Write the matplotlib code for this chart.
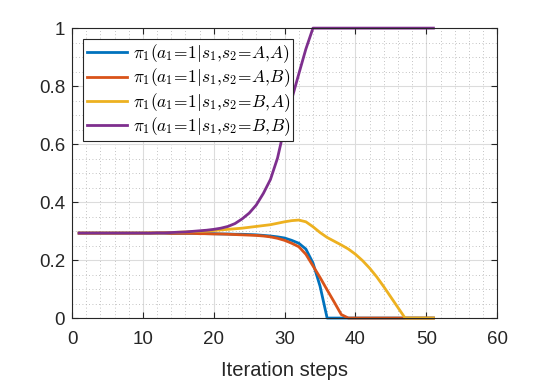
import numpy as np
import matplotlib.pyplot as plt
from matplotlib.ticker import MultipleLocator

plt.rcParams['font.family'] = ['Liberation Sans', 'DejaVu Sans']
plt.rcParams['mathtext.fontset'] = 'cm'

# iteration steps 1..51
steps = list(range(1, 52))

# policy values
pi_AA = [0.293, 0.293, 0.293, 0.293, 0.293, 0.293, 0.293, 0.293, 0.293, 0.293,
         0.293, 0.293, 0.293, 0.292, 0.292, 0.292, 0.292, 0.292, 0.291, 0.291,
         0.290, 0.290, 0.289, 0.289, 0.288, 0.287, 0.285, 0.283, 0.280, 0.276,
         0.268, 0.258, 0.238, 0.190, 0.110, 0.0, 0.0, 0.0, 0.0, 0.0,
         0.0, 0.0, 0.0, 0.0, 0.0, 0.0, 0.0, 0.0, 0.0, 0.0, 0.0]
pi_AB = [0.293, 0.293, 0.293, 0.293, 0.293, 0.293, 0.293, 0.293, 0.293, 0.293,
         0.293, 0.293, 0.293, 0.292, 0.292, 0.292, 0.292, 0.291, 0.291, 0.290,
         0.290, 0.289, 0.288, 0.287, 0.286, 0.285, 0.283, 0.280, 0.275, 0.268,
         0.258, 0.246, 0.220, 0.180, 0.140, 0.097, 0.055, 0.012, 0.0, 0.0,
         0.0, 0.0, 0.0, 0.0, 0.0, 0.0, 0.0, 0.0, 0.0, 0.0, 0.0]
pi_BA = [0.293, 0.293, 0.293, 0.293, 0.293, 0.293, 0.293, 0.293, 0.293, 0.293,
         0.294, 0.294, 0.295, 0.295, 0.296, 0.297, 0.298, 0.299, 0.300, 0.302,
         0.304, 0.306, 0.308, 0.310, 0.313, 0.316, 0.319, 0.322, 0.327, 0.332,
         0.336, 0.338, 0.332, 0.315, 0.295, 0.278, 0.265, 0.252, 0.238, 0.220,
         0.198, 0.172, 0.142, 0.108, 0.072, 0.036, 0.0, 0.0, 0.0, 0.0, 0.0]
pi_BB = [0.293, 0.293, 0.293, 0.293, 0.293, 0.293, 0.293, 0.293, 0.293, 0.293,
         0.293, 0.294, 0.294, 0.295, 0.296, 0.297, 0.299, 0.301, 0.303, 0.306,
         0.310, 0.316, 0.326, 0.342, 0.362, 0.390, 0.430, 0.478, 0.552, 0.660,
         0.755, 0.842, 0.928, 1.0, 1.0, 1.0, 1.0, 1.0, 1.0, 1.0,
         1.0, 1.0, 1.0, 1.0, 1.0, 1.0, 1.0, 1.0, 1.0, 1.0, 1.0]

labels = [r'$\pi_1(a_1\!=\!1|s_1,\!s_2\!=\!A,\!A)$',
          r'$\pi_1(a_1\!=\!1|s_1,\!s_2\!=\!A,\!B)$',
          r'$\pi_1(a_1\!=\!1|s_1,\!s_2\!=\!B,\!A)$',
          r'$\pi_1(a_1\!=\!1|s_1,\!s_2\!=\!B,\!B)$']
colors = ['#0072BD', '#D95319', '#EDB120', '#7E2F8E']

fig = plt.figure(figsize=(5.5, 3.8), dpi=100)
ax = fig.add_axes([0.131, 0.163, 0.773, 0.763])

for y, lab, c in zip([pi_AA, pi_AB, pi_BA, pi_BB], labels, colors):
    ax.plot(steps, y, color=c, lw=2, label=lab, clip_on=False)

ax.set_xlim(0, 60)
ax.set_ylim(0, 1)
ax.xaxis.set_major_locator(MultipleLocator(10))
ax.xaxis.set_minor_locator(MultipleLocator(2))
ax.yaxis.set_minor_locator(MultipleLocator(0.05))
ax.set_yticks([0, 0.2, 0.4, 0.6, 0.8, 1])
ax.set_yticklabels(['0', '0.2', '0.4', '0.6', '0.8', '1'])

ax.grid(which='major', color='#dcdcdc', lw=0.8)
ax.grid(which='minor', color='#b0b0b0', lw=0.6, ls=(0, (1, 3)))
ax.set_axisbelow(True)

ax.tick_params(which='major', direction='in', length=4, top=True, right=True,
               labelsize=13.5, labelcolor='#262626', color='#262626')
ax.tick_params(axis='x', which='major', pad=9)
ax.tick_params(axis='y', which='major', pad=5)
ax.tick_params(which='minor', length=0)
for s in ax.spines.values():
    s.set_color('#262626')
    s.set_linewidth(0.8)

ax.set_xlabel('Iteration steps', fontsize=14.5, color='#262626', labelpad=10)

leg = ax.legend(loc='upper left', bbox_to_anchor=(0.026, 0.962), borderaxespad=0,
                fontsize=12.5, fancybox=False, framealpha=1, edgecolor='#262626',
                handlelength=2.3, handletextpad=0.35, labelspacing=0.08,
                borderpad=0.2)
leg.get_frame().set_linewidth(0.8)

plt.savefig('out.png', dpi=100)
